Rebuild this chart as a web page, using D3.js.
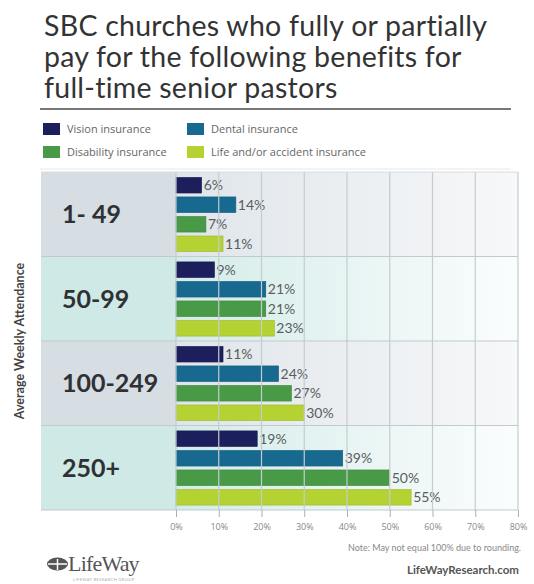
<!DOCTYPE html>
<html>
<head>
<meta charset="utf-8">
<script src="https://cdn.jsdelivr.net/npm/d3@7"></script>
<style>
  body { margin: 0; background: #fff; }
  svg { display: block; font-family: Lato, "Open Sans", sans-serif; }
</style>
</head>
<body>
<svg id="chart" width="534" height="584"></svg>
<script>
const groups = ['1- 49', '50-99', '100-249', '250+'];
const series = ['Vision insurance', 'Dental insurance', 'Disability insurance', 'Life and/or accident insurance'];
const vision = [6, 9, 11, 19];
const dental = [14, 21, 24, 39];
const disability = [7, 21, 27, 50];
const life = [11, 23, 30, 55];
const xTicks = [0, 10, 20, 30, 40, 50, 60, 70, 80];
const titleLines = ['SBC churches who fully or partially', 'pay for the following benefits for', 'full-time senior pastors'];

const colors = ['#1c1f5c', '#17698f', '#489a47', '#b4d333'];
const values = [vision, dental, disability, life];

const svg = d3.select('#chart');

// title
svg.append('g').selectAll('text')
  .data(titleLines)
  .join('text')
    .attr('x', 44)
    .attr('y', (d, i) => 36 + i * 31)
    .attr('font-size', 28.5)
    .attr('letter-spacing', 0.25)
    .attr('fill', '#333')
    .text(d => d);

svg.append('line')
  .attr('x1', 40).attr('x2', 511)
  .attr('y1', 109).attr('y2', 109)
  .attr('stroke', '#777').attr('stroke-width', 2);

// legend
const legend = svg.append('g');
const legendPos = [[43, 123], [187, 123], [43, 146], [187, 146]];
series.forEach((s, i) => {
  const lg = legend.append('g').attr('transform', 'translate(' + legendPos[i][0] + ',' + legendPos[i][1] + ')');
  lg.append('rect').attr('width', 17).attr('height', 12).attr('fill', colors[i]);
  lg.append('text')
    .attr('x', 24).attr('y', 10)
    .attr('font-family', '"Open Sans", sans-serif')
    .attr('font-size', 11)
    .attr('fill', '#666')
    .text(s);
});

svg.append('line')
  .attr('x1', 40).attr('x2', 511)
  .attr('y1', 169).attr('y2', 169)
  .attr('stroke', '#e6e8ea');

// chart area
const margin = {left: 176, right: 518, top: 172, bottom: 510};
const panelLeft = 41;

const x = d3.scaleLinear().domain([0, 80]).range([margin.left, margin.right]);
const y0 = d3.scaleBand().domain(groups).range([margin.top, margin.bottom]);
const y1 = d3.scaleBand().domain(series).range([1.5, y0.bandwidth() - 1]).padding(0.2);

const defs = svg.append('defs');
const gradA = defs.append('linearGradient').attr('id', 'rowA');
gradA.append('stop').attr('offset', '0%').attr('stop-color', '#dfe5ea');
gradA.append('stop').attr('offset', '100%').attr('stop-color', '#f7f8f9');
const gradB = defs.append('linearGradient').attr('id', 'rowB');
gradB.append('stop').attr('offset', '0%').attr('stop-color', '#d3ece9');
gradB.append('stop').attr('offset', '100%').attr('stop-color', '#fbfdfd');

const rows = svg.append('g').selectAll('g')
  .data(groups)
  .join('g')
    .attr('transform', d => 'translate(0,' + y0(d) + ')');

rows.append('rect')
  .attr('x', panelLeft)
  .attr('width', margin.left - panelLeft)
  .attr('height', y0.bandwidth())
  .attr('fill', (d, i) => i % 2 ? '#cfe9e6' : '#d6dde3');

rows.append('rect')
  .attr('x', margin.left)
  .attr('width', margin.right - margin.left)
  .attr('height', y0.bandwidth())
  .attr('fill', (d, i) => i % 2 ? 'url(#rowB)' : 'url(#rowA)');

// grid
svg.append('g').selectAll('line')
  .data(xTicks)
  .join('line')
    .attr('x1', d => x(d)).attr('x2', d => x(d))
    .attr('y1', margin.top).attr('y2', margin.bottom)
    .attr('stroke', '#c6cbd0').attr('stroke-width', 1.2);

svg.append('g').selectAll('line')
  .data(groups.slice(1).concat(['end']))
  .join('line')
    .attr('x1', panelLeft).attr('x2', margin.right)
    .attr('y1', d => d === 'end' ? margin.bottom : y0(d))
    .attr('y2', d => d === 'end' ? margin.bottom : y0(d))
    .attr('stroke', '#c3c9ce').attr('stroke-width', 1);

svg.append('line')
  .attr('x1', panelLeft).attr('x2', margin.right)
  .attr('y1', margin.top).attr('y2', margin.top)
  .attr('stroke', '#d8dcdf');

// group labels
rows.append('text')
  .attr('x', 62)
  .attr('y', y0.bandwidth() / 2)
  .attr('dy', '0.36em')
  .attr('font-size', 25)
  .attr('font-weight', 'bold')
  .attr('fill', '#2f3133')
  .text(d => d);

// bars
rows.each(function(g, gi) {
  const row = d3.select(this);
  series.forEach((s, si) => {
    const v = values[si][gi];
    row.append('rect')
      .attr('x', x(0))
      .attr('y', y1(s))
      .attr('width', x(v) - x(0))
      .attr('height', y1.bandwidth())
      .attr('fill', colors[si])
      .attr('stroke', d3.color(colors[si]).darker(0.4))
      .attr('stroke-width', 0.6);
    row.append('text')
      .attr('x', x(v) + 2)
      .attr('y', y1(s) + y1.bandwidth() / 2)
      .attr('dy', '0.36em')
      .attr('font-size', 14)
      .attr('fill', '#5a5d60')
      .text(v + '%');
  });
});

// x axis
const xAxis = d3.axisBottom(x)
  .tickValues(xTicks)
  .tickFormat(d => d + '%')
  .tickSize(7)
  .tickPadding(7);

const axisG = svg.append('g')
  .attr('transform', 'translate(0,' + margin.bottom + ')')
  .call(xAxis);
axisG.select('.domain').remove();
axisG.selectAll('line').attr('stroke', '#aab0b5');
axisG.selectAll('text').attr('fill', '#888').attr('font-size', 9).attr('font-family', '"Open Sans", sans-serif');

// y title
svg.append('text')
  .attr('transform', 'translate(24,' + ((margin.top + margin.bottom) / 2) + ') rotate(-90)')
  .attr('text-anchor', 'middle')
  .attr('font-size', 12.5)
  .attr('font-weight', 'bold')
  .attr('fill', '#444')
  .text('Average Weekly Attendance');

// footer
svg.append('text')
  .attr('x', 521).attr('y', 551)
  .attr('text-anchor', 'end')
  .attr('font-size', 9)
  .attr('fill', '#888')
  .text('Note: May not equal 100% due to rounding.');

svg.append('text')
  .attr('x', 519).attr('y', 574)
  .attr('text-anchor', 'end')
  .attr('font-size', 11.5)
  .attr('font-weight', 'bold')
  .attr('fill', '#555')
  .text('LifeWayResearch.com');

// logo
const logo = svg.append('g').attr('transform', 'translate(47,556)');
logo.append('ellipse').attr('cx', 10.5).attr('cy', 8).attr('rx', 10.5).attr('ry', 6.5).attr('fill', '#555');
logo.append('path').attr('d', 'M1,8 H20 M10.5,3 V14').attr('stroke', '#fff').attr('stroke-width', 1.5);
logo.append('text')
  .attr('x', 21).attr('y', 15)
  .attr('font-family', '"Liberation Serif", "DejaVu Serif", serif')
  .attr('font-size', 22)
  .attr('fill', '#555')
  .attr('letter-spacing', -0.8)
  .text('LifeWay');
logo.append('text')
  .attr('x', 26).attr('y', 25)
  .attr('font-size', 4)
  .attr('fill', '#aaa')
  .attr('letter-spacing', 0.4)
  .text('LIFEWAY RESEARCH GROUP');
</script>
</body>
</html>
